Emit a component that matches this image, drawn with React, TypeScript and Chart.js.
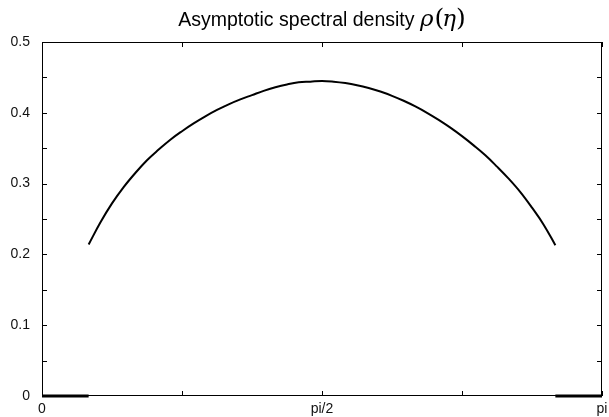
import React, { useEffect, useRef } from "react";
import { Chart, registerables } from "chart.js";

Chart.register(...registerables);

// η positions are given as fractions of π
const curveEtaOverPi = [
  0.0833, 0.1042, 0.125, 0.1458, 0.1667, 0.1875, 0.2083, 0.2292, 0.25, 0.2708,
  0.2917, 0.3125, 0.3333, 0.3542, 0.375, 0.3958, 0.4167, 0.4375, 0.4583, 0.4792,
  0.5, 0.5208, 0.5417, 0.5625, 0.5833, 0.6042, 0.625, 0.6458, 0.6667, 0.6875,
  0.7083, 0.7292, 0.75, 0.7708, 0.7917, 0.8125, 0.8333, 0.8542, 0.875, 0.8958,
  0.9167,
];
const curveDensity = [
  0.214, 0.245, 0.272, 0.295, 0.315, 0.333, 0.348, 0.362, 0.374, 0.385,
  0.395, 0.404, 0.412, 0.419, 0.425, 0.431, 0.436, 0.44, 0.443, 0.444,
  0.445, 0.444, 0.442, 0.439, 0.435, 0.43, 0.424, 0.417, 0.409, 0.4,
  0.39, 0.379, 0.367, 0.354, 0.34, 0.324, 0.307, 0.288, 0.266, 0.242,
  0.213,
];
// zero density outside the support
const gapLeftEtaOverPi = [0, 0.0833];
const gapRightEtaOverPi = [0.9167, 1];
const gapDensity = [0, 0];

const yTickValues = [0, 0.05, 0.1, 0.15, 0.2, 0.25, 0.3, 0.35, 0.4, 0.45, 0.5];
const yTickLabels = ["0", "", "0.1", "", "0.2", "", "0.3", "", "0.4", "", "0.5"];
const xTickEtaOverPi = [0, 0.25, 0.5, 0.75, 1];
const xTickLabels = ["0", "", "pi/2", "", "pi"];

const titleText = "Asymptotic spectral density ";

const toPoints = (xs: number[], ys: number[]) =>
  xs.map((f, i) => ({ x: f * Math.PI, y: ys[i] }));

const framePlugin = {
  id: "frameAndTicks",
  afterDraw(chart: any) {
    const { ctx, chartArea, scales } = chart;
    const { left, right, top, bottom } = chartArea;
    const xs = scales.x;
    const ys = scales.y;
    const tick = 5;
    ctx.save();
    ctx.strokeStyle = "#000";
    ctx.lineWidth = 1;
    ctx.beginPath();
    ctx.rect(left + 0.5, top + 0.5, right - left - 1, bottom - top - 1);
    ctx.stroke();

    ctx.beginPath();
    yTickValues.forEach((v) => {
      const py = Math.round(ys.getPixelForValue(v)) + 0.5;
      ctx.moveTo(left, py);
      ctx.lineTo(left + tick, py);
      ctx.moveTo(right, py);
      ctx.lineTo(right - tick, py);
    });
    xTickEtaOverPi.forEach((f) => {
      const px = Math.round(xs.getPixelForValue(f * Math.PI)) + 0.5;
      ctx.moveTo(px, bottom);
      ctx.lineTo(px, bottom - tick);
      ctx.moveTo(px, top);
      ctx.lineTo(px, top + tick);
    });
    ctx.stroke();

    ctx.fillStyle = "#111";
    ctx.font = "14px 'Liberation Sans', Arial, sans-serif";
    ctx.textAlign = "right";
    ctx.textBaseline = "middle";
    yTickValues.forEach((v, i) => {
      if (!yTickLabels[i]) return;
      ctx.fillText(yTickLabels[i], left - 12, ys.getPixelForValue(v));
    });
    ctx.textAlign = "center";
    ctx.textBaseline = "top";
    xTickEtaOverPi.forEach((f, i) => {
      if (!xTickLabels[i]) return;
      let px = xs.getPixelForValue(f * Math.PI);
      const w = ctx.measureText(xTickLabels[i]).width;
      px = Math.min(px, chart.width - w / 2 - 1);
      ctx.fillText(xTickLabels[i], px, bottom + 6);
    });

    // title: sans text followed by math ρ(η)
    const sansFont = "19.5px 'Liberation Sans', Arial, sans-serif";
    const mathItalic = "italic 23px 'DejaVu Serif', serif";
    const parenFont = "25px 'DejaVu Serif', serif";
    const pieces = [
      { t: titleText, f: sansFont, gap: 0 },
      { t: "ρ", f: mathItalic, gap: 1 },
      { t: "(", f: parenFont, gap: -2 },
      { t: "η", f: mathItalic, gap: 0 },
      { t: ")", f: parenFont, gap: 0 },
    ];
    let total = 0;
    const widths = pieces.map((p) => {
      ctx.font = p.f;
      const w = ctx.measureText(p.t).width + p.gap;
      total += w;
      return w;
    });
    let x = (left + right) / 2 - total / 2;
    const baseline = 26;
    ctx.fillStyle = "#000";
    ctx.textAlign = "left";
    ctx.textBaseline = "alphabetic";
    pieces.forEach((p, i) => {
      ctx.font = p.f;
      ctx.fillText(p.t, x, baseline);
      x += widths[i];
    });
    ctx.restore();
  },
};

export default function App() {
  const canvasRef = useRef<HTMLCanvasElement | null>(null);

  useEffect(() => {
    const canvas = canvasRef.current;
    if (!canvas) return;
    const lineStyle = {
      borderColor: "#000",
      borderWidth: 2,
      pointRadius: 0,
      fill: false,
      showLine: true,
    };
    const chart = new Chart(canvas, {
      type: "line",
      data: {
        datasets: [
          { ...lineStyle, data: toPoints(curveEtaOverPi, curveDensity), tension: 0.4 },
          { ...lineStyle, borderWidth: 3, clip: false, data: toPoints(gapLeftEtaOverPi, gapDensity) },
          { ...lineStyle, borderWidth: 3, clip: false, data: toPoints(gapRightEtaOverPi, gapDensity) },
        ],
      },
      options: {
        animation: false,
        responsive: false,
        devicePixelRatio: 1,
        layout: { padding: { left: 42, right: 7, top: 42, bottom: 21 } },
        plugins: { legend: { display: false }, tooltip: { enabled: false }, title: { display: false } },
        scales: {
          x: { type: "linear", min: 0, max: Math.PI, display: false },
          y: { type: "linear", min: 0, max: 0.5, display: false },
        },
      },
      plugins: [framePlugin],
    });
    return () => chart.destroy();
  }, []);

  return (
    <div style={{ position: "absolute", left: 0, top: 0, width: 609, height: 417, background: "#fff" }}>
      <canvas ref={canvasRef} width={609} height={417} style={{ display: "block" }} />
    </div>
  );
}
